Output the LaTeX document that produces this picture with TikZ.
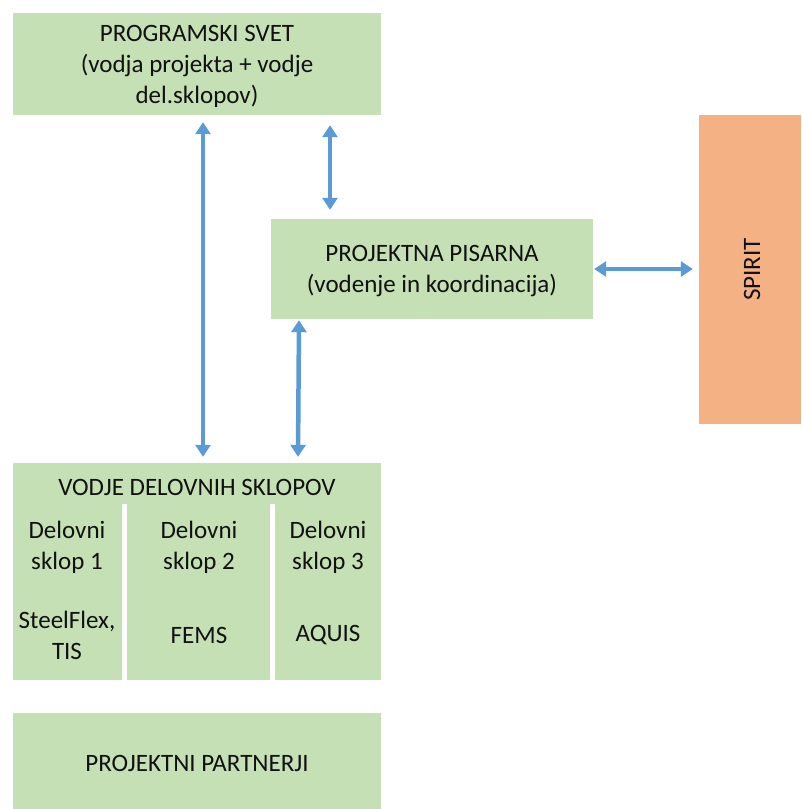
\documentclass[tikz,border=0pt]{standalone}
\usepackage{fontspec}
\setmainfont{Carlito}
\usetikzlibrary{arrows.meta}
\definecolor{boxgreen}{HTML}{C5E0B4}
\definecolor{boxorange}{HTML}{F4B183}
\definecolor{arrblue}{HTML}{5B9BD5}
\definecolor{txt}{HTML}{111111}
\tikzset{
  gbox/.style={fill=boxgreen, draw=none, inner sep=0pt},
  obox/.style={fill=boxorange, draw=none, inner sep=0pt},
  lbl/.style={inner sep=0pt, align=center, text=txt, font=\fontsize{25}{31}\selectfont},
  arr/.style={draw=arrblue, line width=4.5pt,
    {Triangle[width=15pt,length=12pt]}-{Triangle[width=15pt,length=12pt]}},
  sep/.style={draw=white, line width=5pt}
}
\begin{document}
\begin{tikzpicture}[x=1pt,y=1pt]
\useasboundingbox (0,0) rectangle (801,-809);
% boxes
\node[gbox, minimum width=368pt, minimum height=102pt] (ps) at (197,-64) {};
\node[lbl] (pst) at ([yshift=-2pt]ps.center)
  {PROGRAMSKI SVET\\(vodja projekta + vodje\\del.sklopov)};
\node[gbox, minimum width=322pt, minimum height=100pt] (pp) at (432,-269) {};
\node[lbl] (ppt) at ([yshift=-2pt]pp.center)
  {PROJEKTNA PISARNA\\(vodenje in koordinacija)};
\node[obox, minimum width=102pt, minimum height=309pt] (sp) at (750,-269.5) {};
\node[lbl, rotate=90] (spt) at ([xshift=2pt]sp.center) {SPIRIT};
\node[gbox, minimum width=368pt, minimum height=217pt] (vd) at (197,-571.5) {};
\node[lbl] (vdt) at (197,-487) {VODJE DELOVNIH SKLOPOV};
\coordinate (s1t) at (124.5,-504);
\coordinate (s1b) at (124.5,-680);
\coordinate (s2t) at (272.5,-504);
\coordinate (s2b) at (272.5,-680);
\draw[sep] (s1t) -- (s1b);
\draw[sep] (s2t) -- (s2b);
\node[lbl] (c1a) at (67,-547) {Delovni\\sklop 1};
\node[lbl] (c1b) at (67,-635) {SteelFlex,\\TIS};
\node[lbl] (c2a) at (199,-547) {Delovni\\sklop 2};
\node[lbl] (c2b) at (199,-635) {FEMS};
\node[lbl] (c3a) at (328,-547) {Delovni\\sklop 3};
\node[lbl] (c3b) at (328,-635) {AQUIS};
\node[gbox, minimum width=368pt, minimum height=96pt] (pr) at (197,-761) {};
\node[lbl] (prt) at ([yshift=-2pt]pr.center) {PROJEKTNI PARTNERJI};
% arrows
\draw[arr] ([xshift=6pt,yshift=-7pt]ps.south) -- ([xshift=6pt,yshift=6pt]vd.north);
\draw[arr] ([xshift=133pt,yshift=-10pt]ps.south) -- ([xshift=-102pt,yshift=9pt]pp.north);
\draw[arr] ([xshift=-133pt,yshift=-1pt]pp.south) -- ([xshift=101pt,yshift=6pt]vd.north);
\draw[arr] ([xshift=1pt]pp.east) -- ([xshift=-6pt]sp.west |- pp.east);
\end{tikzpicture}
\end{document}
